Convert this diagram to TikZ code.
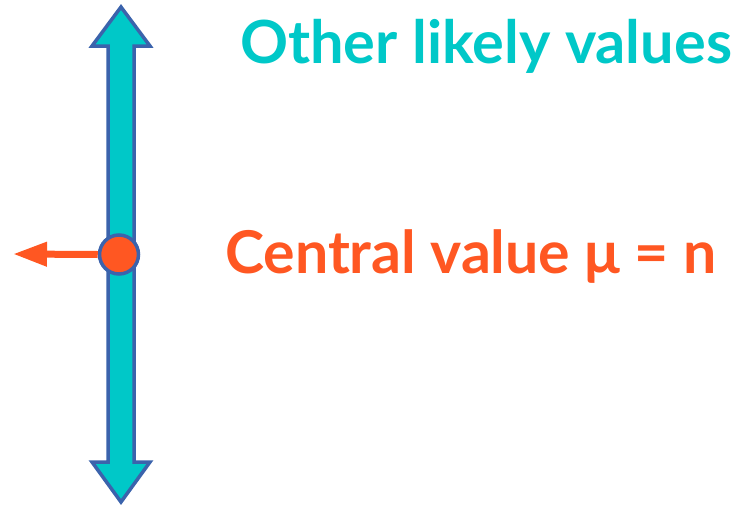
\documentclass[tikz,border=0pt]{standalone}
\usepackage{fontspec}
\setmainfont{Lato}[UprightFont=* Bold]
\usetikzlibrary{arrows.meta}
\definecolor{tealfill}{RGB}{0,200,200}
\definecolor{bluebord}{RGB}{59,99,172}
\definecolor{orangec}{RGB}{255,87,34}
\tikzset{
  bigarrow/.style={fill=tealfill,draw=bluebord,line width=3.5pt,line join=miter},
  dot/.style={circle,fill=orangec,draw=bluebord,line width=3.5pt,minimum size=39pt,inner sep=0pt},
  pointer/.style={draw=orangec,line width=7pt,-{Triangle[length=34pt,width=23pt]}},
  lbl/.style={anchor=base west,inner sep=0pt}
}
\begin{document}
\begin{tikzpicture}[x=1pt,y=-1pt]
\useasboundingbox (0,0) rectangle (742,509);
\draw[bigarrow] (121,7) -- (150,46) -- (134,46) -- (134,462) -- (150,462) -- (121,502)
  -- (92,462) -- (108,462) -- (108,46) -- (92,46) -- cycle;
\node[dot] (mu) at (119,254.5) {};
\coordinate (tip) at (13,254);
\draw[pointer] (mu.west) -- (tip);
\node[lbl,text=tealfill,font=\fontsize{59.5}{62}\selectfont] (other) at (240,63) {Other likely values};
\node[lbl,text=orangec,font=\fontsize{59}{62}\selectfont] (central) at (225,273) {Central value μ = n};
\end{tikzpicture}
\end{document}
